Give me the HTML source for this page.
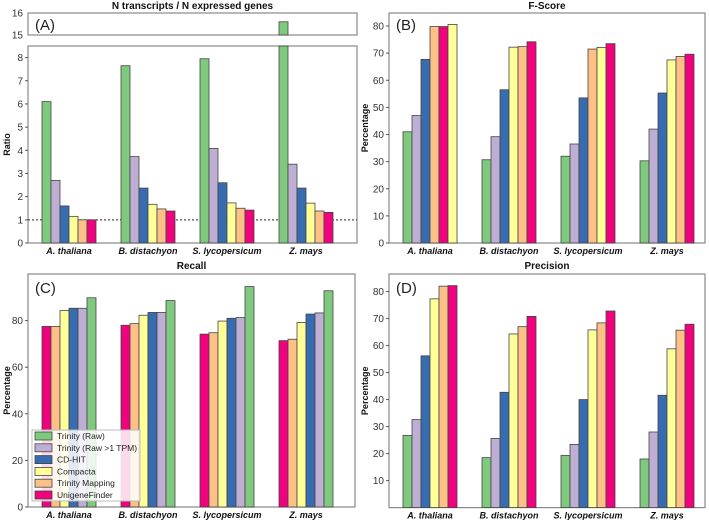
<!DOCTYPE html>
<html><head><meta charset="utf-8"><style>
body{margin:0;background:#fff;}
svg{display:block;font-family:"Liberation Sans",sans-serif;}
</style></head><body>
<svg id="c" width="709" height="520" viewBox="0 0 709 520"></svg>
<script>
const categories=["A. thaliana","B. distachyon","S. lycopersicum","Z. mays"];
const seriesNames=["Trinity (Raw)","Trinity (Raw >1 TPM)","CD-HIT","Compacta","Trinity Mapping","UnigeneFinder"];
const colors=["#7fc97f","#beaed4","#386cb0","#ffff99","#fdc086","#f0027f"];
// Panel A: ratio (series order 0..5)
const ratioValues=[[6.1,2.7,1.6,1.15,1.0,1.0],[7.65,3.73,2.37,1.67,1.47,1.38],[7.95,4.08,2.6,1.73,1.5,1.42],[15.6,3.4,2.37,1.72,1.38,1.32]];
const ratioTicks=[0,1,2,3,4,5,6,7,8];
const ratioTopTicks=[15,16];
// Panel B: F-score, values by series index; order gives drawing order per group
const fscoreValues=[[41,47,67.7,80.6,79.8,79.8],[30.7,39.2,56.5,72.2,72.4,74.2],[32,36.5,53.5,72.1,71.5,73.5],[30.3,42,55.3,67.5,68.8,69.6]];
const fscoreOrder=[[0,1,2,4,5,3],[0,1,2,3,4,5],[0,1,2,4,3,5],[0,1,2,3,4,5]];
const fscoreTicks=[0,10,20,30,40,50,60,70,80];
// Panel C: recall
const recallValues=[[89.8,85.3,85.3,84.3,77.5,77.5],[88.6,83.5,83.5,82.3,78.7,78],[94.6,81.3,81,79.8,74.8,74.2],[92.8,83.3,82.8,79.2,72,71.4]];
const recallOrder=[[5,4,3,2,1,0],[5,4,3,2,1,0],[5,4,3,2,1,0],[5,4,3,2,1,0]];
const recallTicks=[0,20,40,60,80];
// Panel D: precision
const precisionValues=[[26.7,32.6,56.2,77.3,82,82.2],[18.5,25.6,42.7,64.3,67,70.8],[19.3,23.4,40,65.8,68.4,72.8],[18,28,41.6,58.8,65.7,67.9]];
const precisionTicks=[10,20,30,40,50,60,70,80];

const svg=document.getElementById('c');
const NS="http://www.w3.org/2000/svg";
function mk(tag,attrs,parent){const e=document.createElementNS(NS,tag);for(const k in attrs)e.setAttribute(k,attrs[k]);(parent||svg).appendChild(e);return e;}
function txt(s,attrs,name){const e=mk('text',attrs);e.textContent=s;


return e;}
const seq=[0,1,2,3,4,5];

function panel(p){
  const g=mk('g',{});
  
  
  const y=v=>p.y0-(v-p.vmin)*(p.y0-p.top)/(p.vmax-p.vmin);
  const box=mk('rect',{x:p.left,y:p.top,width:p.right-p.left,height:p.y0-p.top,fill:'none',stroke:'#888','stroke-width':1.2},g);
  
  
  p.ticks.forEach(t=>{
    mk('line',{x1:p.left-3,x2:p.left,y1:y(t),y2:y(t),stroke:'#555'},g);
    txt(String(t),{x:p.left-5,y:y(t)+3.5,'font-size':10,'text-anchor':'end',fill:'#333'},'y-tick-label');
  });
  if(p.ref!==undefined){const l=mk('line',{x1:p.left,x2:p.right,y1:y(p.ref),y2:y(p.ref),stroke:'#222','stroke-dasharray':'2,2'},g);
    
    }
  categories.forEach((c,i)=>{
    const cx=p.left+41+79*i;
    const order=p.order?p.order[i]:seq;
    order.forEach((s,k)=>{
      const v=p.vals[i][s];
      const top=Math.max(y(Math.min(v,p.vmax)),p.top);
      const r=mk('rect',{x:cx-27+k*9,y:top,width:9,height:p.y0-top,fill:colors[s],stroke:'#444','stroke-width':0.8},g);
      
      
      if(p.brk && v>p.brk.vmin){
        const yb=v2=>p.brk.y0-(v2-p.brk.vmin)*(p.brk.y0-p.brk.top)/(p.brk.vmax-p.brk.vmin);
        const r2=mk('rect',{x:cx-27+k*9,y:yb(v),width:9,height:p.brk.y0-yb(v),fill:colors[s],stroke:'#444','stroke-width':0.8},g);
        
        
      }
    });
    txt(c,{x:cx,y:p.y0+11,'font-size':9,'font-weight':'bold','font-style':'italic','text-anchor':'middle',fill:'#111'},'x-category-label');
  });
  txt(p.title,{x:(p.left+p.right)/2,y:p.titleY,'font-size':10,'font-weight':'bold','text-anchor':'middle',fill:'#111'},'panel-title');
  txt(p.tag,{x:p.left+7,y:p.tagY,'font-size':15,fill:'#222'},'panel-tag');
  const yl=(p.top+p.y0)/2;
  txt(p.ylabel,{x:p.ylx,y:yl,'font-size':9,'font-weight':'bold','text-anchor':'middle',fill:'#111',transform:`rotate(-90 ${p.ylx} ${yl})`},'y-axis-title');
}

// Panel A top (broken) box
(function(){
  const top=13,y0=35,vmin=15,vmax=16;
  const r=mk('rect',{x:28,y:top,width:329,height:y0-top,fill:'none',stroke:'#888','stroke-width':1.2});
  
  
  ratioTopTicks.forEach(t=>{const yy=y0-(t-vmin)*(y0-top)/(vmax-vmin);
    txt(String(t),{x:23,y:yy+3.5,'font-size':10,'text-anchor':'end',fill:'#333'},'y-tick-label');});
})();
panel({name:'panel-a-ratio',left:28,right:357,top:46,y0:243,vmin:0,vmax:8.5,ticks:ratioTicks,vals:ratioValues,ref:1,
  brk:{top:13,y0:35,vmin:15,vmax:16},title:'N transcripts / N expressed genes',titleY:9,tag:'(A)',tagY:30,ylabel:'Ratio',ylx:10});
panel({name:'panel-b-fscore',left:389,right:705,top:13,y0:243,vmin:0,vmax:84.8,ticks:fscoreTicks,vals:fscoreValues,order:fscoreOrder,
  title:'F-Score',titleY:9,tag:'(B)',tagY:30,ylabel:'Percentage',ylx:368});
panel({name:'panel-c-recall',left:28,right:355,top:274,y0:507,vmin:0,vmax:100,ticks:recallTicks,vals:recallValues,order:recallOrder,
  title:'Recall',titleY:272-3,tag:'(C)',tagY:293,ylabel:'Percentage',ylx:10});
panel({name:'panel-d-precision',left:389,right:705,top:274,y0:507.6,vmin:0,vmax:86.5,ticks:precisionTicks,vals:precisionValues,
  title:'Precision',titleY:269,tag:'(D)',tagY:293,ylabel:'Percentage',ylx:368});

// Legend
const lg=mk('g',{});


const lb=mk('rect',{x:32,y:430,width:108,height:71,fill:'rgba(255,255,255,0.85)',stroke:'#bbb'},lg);


seriesNames.forEach((n,i)=>{
  const yy=436+i*11.8;
  const sw=mk('rect',{x:35,y:yy-4,width:17,height:8,fill:colors[i],stroke:'#444','stroke-width':0.8},lg);
  
  
  txt(n,{x:57,y:yy+3,'font-size':8.5,fill:'#222'},'legend-entry');
});
</script>
</body></html>
